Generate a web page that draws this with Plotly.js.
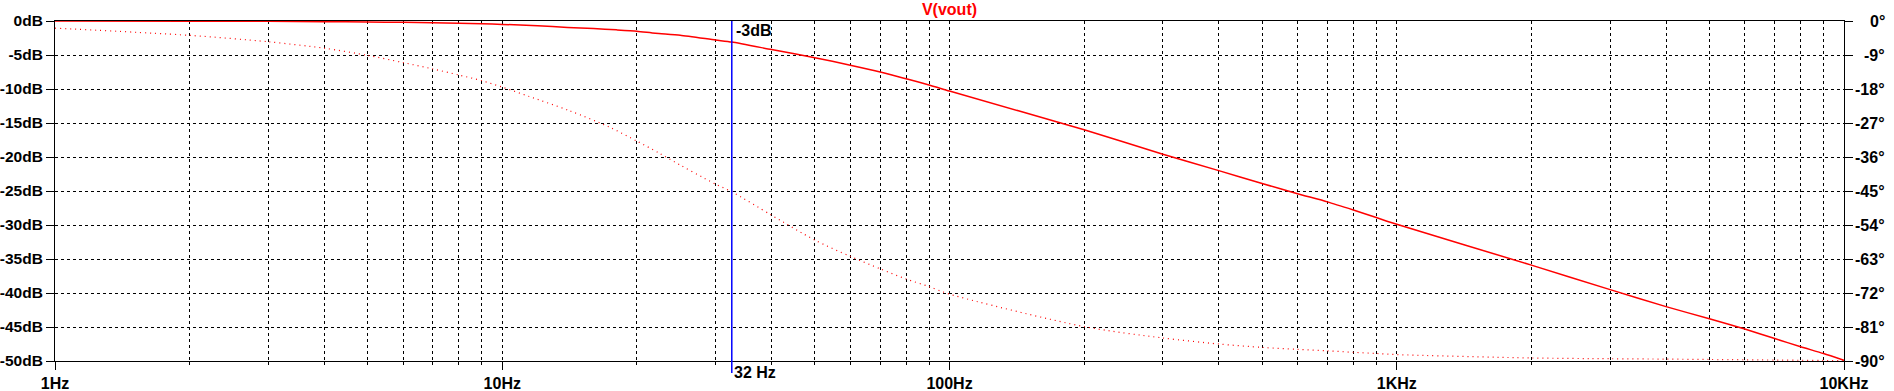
<!DOCTYPE html>
<html>
<head>
<meta charset="utf-8">
<script src="https://cdn.plot.ly/plotly-3.0.1.min.js"></script>
<style>html,body{margin:0;padding:0;background:#fff;}#chart{width:1894px;height:391px;}</style>
</head>
<body>
<div id="chart"></div>
<script>
// ---- data ----
const title = 'V(vout)';
const magFreq = [1,2,3,4,5,6,7,8,9,10,12,14,16,18,20,22,25,30,32.6,40,50,60,70,80,90,100,200,300,400,500,600,700,800,900,1000,2000,3000,4000,5000,6000,7000,8000,9000,10000];
const magDb   = [0,-0.02,-0.04,-0.1,-0.15,-0.2,-0.27,-0.33,-0.42,-0.5,-0.7,-0.95,-1.1,-1.3,-1.5,-1.8,-2.1,-2.8,-3.1,-4.2,-5.4,-6.5,-7.5,-8.5,-9.4,-10.3,-16.0,-19.6,-22.0,-23.9,-25.4,-26.6,-27.8,-28.9,-29.9,-35.9,-39.5,-42.0,-43.8,-45.3,-46.7,-47.9,-48.9,-49.9];
const phFreq  = [1,2,3,4,5,6,7,8,9,10,11.5,14.1,17.3,20,22.3,23.7,30,32.6,40,50,60,70,80,90,100,200,300,400,500,600,700,800,900,1000,2000,3000,4000,5000,10000];
const phDeg   = [-1.9,-3.8,-5.5,-7.2,-9.1,-11.0,-12.7,-14.3,-15.8,-17.5,-20.0,-23.7,-28.0,-31.8,-34.8,-36.6,-43.2,-45.2,-51.4,-58.0,-62.3,-65.6,-68.3,-70.3,-72.3,-80.9,-83.9,-85.5,-86.4,-86.9,-87.3,-87.7,-88.0,-88.3,-89.2,-89.4,-89.5,-89.6,-89.9];
const xTickVals = [1,10,100,1000,10000];
const xTickText = ['1Hz','10Hz','100Hz','1KHz','10KHz'];
const xMinorVals = [2,3,4,5,6,7,8,9,20,30,40,50,60,70,80,90,200,300,400,500,600,700,800,900,2000,3000,4000,5000,6000,7000,8000,9000];
const yTickVals = [0,-5,-10,-15,-20,-25,-30,-35,-40,-45,-50];
const yTickText = ['0dB','-5dB','-10dB','-15dB','-20dB','-25dB','-30dB','-35dB','-40dB','-45dB','-50dB'];
const y2TickVals = [0,-9,-18,-27,-36,-45,-54,-63,-72,-81,-90];
const y2TickText = ['0°','-9°','-18°','-27°','-36°','-45°','-54°','-63°','-72°','-81°','-90°'];
const cursorFreq = 32.6;
const cursorLabel = '32 Hz';
const cursorValue = '-3dB';

const FONT = {family:'Liberation Sans, Arial, sans-serif', size:16, color:'#000', weight:'bold'};
const YFONT = {family:'Liberation Sans, Arial, sans-serif', size:15.5, color:'#000', weight:'bold'};
const DASH = '3px,3px';

const traces = [
  {x: magFreq, y: magDb, type:'scatter', mode:'lines', xaxis:'x', yaxis:'y',
   line:{color:'#ff0000', width:1.5, shape:'spline', smoothing:0.6}, hoverinfo:'skip'},
  {x: phFreq, y: phDeg, type:'scatter', mode:'lines', xaxis:'x', yaxis:'y2',
   line:{color:'#ff0000', width:1.2, dash:'1px,4px', shape:'spline', smoothing:0.8}, hoverinfo:'skip'}
];

const annotations = y2TickVals.map((v,i)=>({
  xref:'paper', yref:'y2', x:1.0235, y:v, xanchor:'right', yanchor:'middle',
  text:y2TickText[i], showarrow:false, font:FONT, borderpad:0
}));
annotations.push({xref:'x', yref:'paper', x:Math.log10(cursorFreq), y:1, xanchor:'left', yanchor:'top',
  text:cursorValue, showarrow:false, font:FONT, xshift:3, borderpad:0});
annotations.push({xref:'x', yref:'paper', x:Math.log10(cursorFreq), y:0, xanchor:'left', yanchor:'top',
  text:cursorLabel, showarrow:false, font:FONT, xshift:1, yshift:-2, borderpad:0});

const layout = {
  width:1894, height:391,
  margin:{l:55, r:50, t:21, b:30, pad:0},
  paper_bgcolor:'#fff', plot_bgcolor:'#fff',
  showlegend:false,
  font:FONT,
  title:{text:title, font:{family:FONT.family, size:16, color:'#ff0000', weight:'bold'},
         x:0.5, xref:'paper', y:0.975, yref:'container', yanchor:'middle'},
  xaxis:{type:'log', range:[0,4], showline:true, linecolor:'#000', linewidth:1, mirror:true,
         tickmode:'array', tickvals:xTickVals, ticktext:xTickText, ticks:'outside', ticklen:8,
         tickcolor:'#000', tickfont:FONT,
         showgrid:true, gridcolor:'#000', gridwidth:1, griddash:DASH, zeroline:false,
         minor:{tickmode:'array', tickvals:xMinorVals, ticks:'outside', ticklen:3, tickcolor:'#000',
                showgrid:true, gridcolor:'#000', gridwidth:1, griddash:DASH}},
  yaxis:{range:[-50,0], showline:true, linecolor:'#000', linewidth:1, mirror:true,
         tickmode:'array', tickvals:yTickVals, ticktext:yTickText, ticks:'outside', ticklen:8,
         tickcolor:'#000', tickfont:YFONT,
         showgrid:true, gridcolor:'#000', gridwidth:1, griddash:DASH, zeroline:false},
  yaxis2:{range:[-90,0], overlaying:'y', side:'right', showline:true, linecolor:'#000', linewidth:1,
         tickmode:'array', tickvals:y2TickVals, ticks:'outside', ticklen:8, tickcolor:'#000',
         showticklabels:false, showgrid:false, zeroline:false},
  shapes:[{type:'line', xref:'x', yref:'paper', x0:cursorFreq, x1:cursorFreq, y0:1, y1:-0.035,
           line:{color:'#0000ff', width:1.5}}],
  annotations: annotations
};

Plotly.newPlot('chart', traces, layout, {staticPlot:true, displayModeBar:false});
</script>
</body>
</html>
